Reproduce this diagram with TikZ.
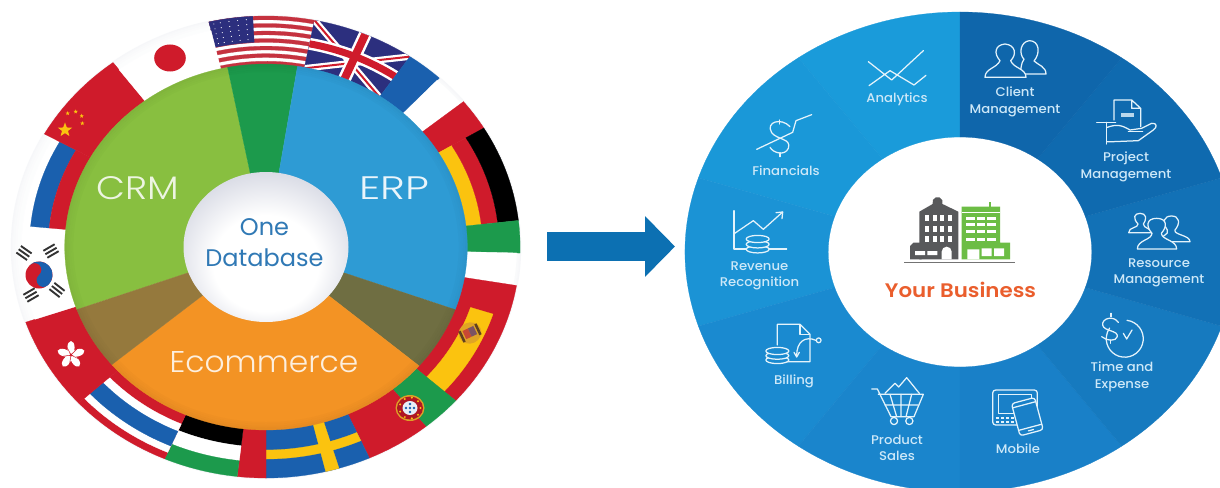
\documentclass[tikz,border=0pt]{standalone}
\usepackage{fontspec}
\usetikzlibrary{arrows.meta,shapes.geometric}
\setmainfont{Poppins}
\newfontfamily\lightf[UprightFont=* Light,FakeStretch=1.155]{Poppins}
\newfontfamily\lighte[UprightFont=* Light,FakeStretch=1.3]{Poppins}
\newfontfamily\lightc[UprightFont=* Light,FakeStretch=1.045]{Poppins}
\newfontfamily\medf[UprightFont=* Medium,FakeStretch=1.05]{Poppins}
\newfontfamily\semif[UprightFont=* SemiBold,FakeStretch=1.09]{Poppins}
\definecolor{crm}{HTML}{88BF40}
\definecolor{erp}{HTML}{2E9BD4}
\definecolor{ecom}{HTML}{F39324}
\definecolor{dkgreen}{HTML}{1C9A4C}
\definecolor{brownw}{HTML}{95793D}
\definecolor{olive}{HTML}{6F6E42}
\definecolor{fred}{HTML}{CF1B2B}
\definecolor{fblue}{HTML}{1A60AE}
\definecolor{fyellow}{HTML}{FBC30F}
\definecolor{fnavy}{HTML}{2C2F7E}
\definecolor{usred}{HTML}{C5323F}
\definecolor{hubedge}{HTML}{CDD0DD}
\definecolor{dbtext}{HTML}{3079B5}
\definecolor{arrowb}{HTML}{0C70B2}
\definecolor{seca}{HTML}{1A9BDA}
\definecolor{secb}{HTML}{1A98D8}
\definecolor{secc}{HTML}{1B93D5}
\definecolor{secd}{HTML}{1A8AD0}
\definecolor{sece}{HTML}{1A85CC}
\definecolor{secf}{HTML}{1980C8}
\definecolor{secg}{HTML}{167ABF}
\definecolor{sech}{HTML}{1271B6}
\definecolor{seci}{HTML}{0F6AAF}
\definecolor{secj}{HTML}{0F66AB}
\definecolor{lab}{HTML}{CDE8F8}
\definecolor{ico}{HTML}{E4F3FB}
\definecolor{bgray}{HTML}{58595B}
\definecolor{bgreen}{HTML}{6CBD45}
\definecolor{busy}{HTML}{EA5E2D}
\pgfdeclareradialshading{hubshade}{\pgfpoint{0bp}{-8bp}}{color(0bp)=(white);color(16bp)=(white);color(26bp)=(hubedge!60);color(33bp)=(hubedge);color(50bp)=(hubedge)}
\newcommand{\ringsec}[5]{\fill[#1,draw=#1,line width=.25pt] (#2:#4pt) arc[start angle=#2,end angle=#3,radius=#4pt] -- (#3:#5pt) arc[start angle=#3,end angle=#2,radius=#5pt] -- cycle;}
\tikzset{
 icon/.style={draw=ico,line width=1.25pt,line join=round,line cap=round},
 ilabel/.style={text=lab,font=\medf\fontsize{12.6}{16.6}\selectfont,align=center,inner sep=0pt},
 zA/.style={shift={(690,0)},x=.33333pt,y=-.33333pt},
 zB/.style={shift={(950,0)},x=.33333pt,y=-.33333pt},
 zC/.style={shift={(690,245)},x=.33333pt,y=-.33333pt},
 zD/.style={shift={(950,245)},x=.33333pt,y=-.33333pt},
 zE/.style={shift={(880,170)},x=.33333pt,y=-.33333pt},
 zF/.style={shift={(1110,200)},x=.33333pt,y=-.33333pt},
 zG/.style={shift={(720,200)},x=.33333pt,y=-.33333pt},
 zL/.style={shift={(0,0)},x=.33333pt,y=-.33333pt},
}
\begin{document}
\begin{tikzpicture}[x=1pt,y=-1pt]
\useasboundingbox (0,0) rectangle (1220,487);
\clip (0,0) rectangle (1220,487);
\fill[white] (0,0) rectangle (1220,487);
% ---------- LEFT DISC ----------
\begin{scope}[shift={(266,247)},xscale=1.1]
 \foreach \r/\c in {232/82,231/86,230/89,228/92,226/95,223/97,220/100}{\fill[white!\c!hubedge] (0,0) circle[radius=\r pt];}
 % US
 \ringsec{white}{79}{103}{182}{231}
 \foreach \i in {0,2,...,12}{\pgfmathsetmacro\ra{231-\i*3.77}\pgfmathsetmacro\rb{\ra-3.77}\ringsec{usred}{79}{103}{\rb}{\ra}}
 \ringsec{fnavy}{93}{103}{205}{231}
 \foreach \a in {94.5,96.5,98.5,100.5,102}{\foreach \r in {208,213,218,223,228}{\fill[white] (\a:\r pt) circle[radius=.55pt];}}
 % UK
 \ringsec{fnavy}{55.5}{79}{182}{231}
 \begin{scope}
  \clip (55.5:182pt) arc[start angle=55.5,end angle=79,radius=182pt] -- (79:231pt) arc[start angle=79,end angle=55.5,radius=231pt] -- cycle;
  \draw[white,line width=6.5pt] (79:231pt)--(55.5:182pt) (79:182pt)--(55.5:231pt);
  \draw[fred,line width=2pt] (79:231pt)--(55.5:182pt) (79:182pt)--(55.5:231pt);
  \draw[white,line width=13pt] (67:175pt)--(67:240pt);
  \draw[white,line width=12pt] (55.5:207pt) arc[start angle=55.5,end angle=79,radius=207pt];
  \draw[fred,line width=8pt] (67:175pt)--(67:240pt);
  \draw[fred,line width=7pt] (55.5:207pt) arc[start angle=55.5,end angle=79,radius=207pt];
 \end{scope}
 % France
 \ringsec{fblue}{47}{55.5}{182}{231}
 \ringsec{white}{39}{47}{182}{228}
 % Germany
 \ringsec{fred}{31}{39}{182}{231}
 \ringsec{fyellow}{6.6}{31}{182}{197}
 \ringsec{fred}{6.6}{31}{197}{212}
 \ringsec{black}{6.6}{31}{212}{231}
 % Italy
 \ringsec{dkgreen}{-1.5}{6.6}{182}{231}
 \ringsec{white}{-9.6}{-1.5}{182}{228}
 % Spain
 \ringsec{fred}{-41.7}{-9.6}{182}{231}
 \ringsec{fyellow}{-41.7}{-18}{195.5}{217}
 % Portugal
 \ringsec{dkgreen}{-51}{-41.7}{182}{231}
 \ringsec{fred}{-66}{-51}{182}{231}
 % Sweden
 \ringsec{fblue}{-90}{-66}{182}{231}
 \ringsec{fyellow}{-90}{-66}{203}{212}
 \ringsec{fyellow}{-76.4}{-73.3}{182}{231}
 % red band
 \ringsec{fred}{263.5}{270}{182}{231}
 % Bulgaria-like
 \ringsec{black}{246.5}{263.5}{182}{200}
 \ringsec{white}{246.5}{263.5}{200}{215}
 \ringsec{dkgreen}{246.5}{263.5}{215}{231}
 % Thailand-like
 \ringsec{fred}{222.5}{246.5}{182}{231}
 \ringsec{white}{222.5}{246.5}{193}{224}
 \ringsec{fblue}{222.5}{246.5}{201}{217}
 % Hong Kong
 \ringsec{fred}{199}{222.5}{182}{231}
 % Korea
 \ringsec{white}{174.5}{199}{182}{222}
 % Russia
 \ringsec{white}{150.7}{174.5}{182}{222}
 \ringsec{fblue}{150.7}{174.5}{198}{215}
 \ringsec{fred}{150.7}{174.5}{182}{198}
 % China
 \ringsec{fred}{127}{150.7}{182}{231}
 % Japan
 \ringsec{white}{103}{127}{182}{222}
 % inner disc
 \ringsec{crm}{101}{200}{74}{183}
 \ringsec{dkgreen}{81}{101}{74}{183}
 \ringsec{erp}{-20}{81}{74}{183}
 \ringsec{olive}{-40.5}{-20}{74}{183}
 \ringsec{ecom}{220}{319.5}{74}{183}
 \ringsec{brownw}{200}{220}{74}{183}
 \foreach \r/\o in {182/.05,180/.035,178/.025,176/.015}{\draw[black,opacity=\o,line width=2pt] (0,0) circle[radius=\r pt];}
 % hub
 \shade[shading=hubshade] (0,0) circle[radius=75pt];
\end{scope}
% flag details (left disc)
\fill[fred] (170,58) ellipse[x radius=15.8pt,y radius=13.5pt];
\begin{scope}[zL]
 \node[star,star points=5,star point ratio=2.4,minimum size=15pt,inner sep=0pt,fill=fyellow] (starbig) at (195,390) {};
 \foreach \p/\n in {{(203,340)}/sa,{(227,335)}/sb,{(245,348)}/sc,{(247,370)}/sd}{\node[star,star points=5,star point ratio=2.4,minimum size=4.5pt,inner sep=0pt,fill=fyellow] (\n) at \p {};}
\end{scope}
% Korea
\begin{scope}[shift={(39,275)}]
 \fill[fred] (0,0) circle[radius=13.5pt];
 \begin{scope}[rotate=-50]
  \fill[fblue] (-13.5pt,0pt) arc[start angle=180,end angle=0,radius=13.5pt] arc[start angle=360,end angle=180,radius=6.75pt] arc[start angle=0,end angle=180,radius=6.75pt] -- cycle;
 \end{scope}
\end{scope}
\foreach \cx/\cy/\rot in {24/253/-35,51/251/30,31/295/30,57/290/-38}{
  \begin{scope}[shift={(\cx,\cy)},rotate=\rot]
   \foreach \dy in {-4,0,4}{\draw[black!80,line width=1.9pt] (-6.5,\dy)--(6.5,\dy);}
  \end{scope}}
% Hong Kong bauhinia
\begin{scope}[shift={(71,355)}]
 \foreach \a in {18,90,162,234,306}{\fill[white,rotate=\a] (7.5pt,0pt) ellipse[x radius=6.5pt,y radius=3.6pt];}
 \foreach \a in {45,117,189,261,333}{\draw[fred,line width=.5pt,rotate=\a] (1pt,0pt)--(9pt,0pt);}
\end{scope}
% Spain arms
\begin{scope}[shift={(470,333)},rotate=25]
 \fill[fyellow!55!brown] (0,0) ellipse[x radius=11.5pt,y radius=10.5pt];
 \fill[fred!55!brown] (-6pt,-4pt) rectangle (0pt,5pt);
 \fill[black!35!blue!35!brown] (0pt,-4pt) rectangle (6pt,5pt);
 \fill[black!50!brown] (-10pt,-6pt) rectangle (-7.5pt,6pt) (7.5pt,-6pt) rectangle (10pt,6pt);
\end{scope}
% Portugal arms
\begin{scope}[shift={(410,408)}]
 \fill[fyellow!50!brown] (0,0) ellipse[x radius=14.5pt,y radius=13pt];
 \fill[fred!85!black] (0,0) ellipse[x radius=13pt,y radius=11.5pt];
 \foreach \a in {0,40,...,320}{\fill[fyellow] (\a:10.5pt) circle[radius=1.1pt];}
 \fill[white!90!fblue] (0,0) ellipse[x radius=7.5pt,y radius=7pt];
 \foreach \dx/\dy in {0/0,0/-4,0/4,-4/0,4/0}{\fill[fblue] (\dx,\dy) circle[radius=1.3pt];}
\end{scope}
% labels left
\node[text=white!85!crm,font=\lightf\fontsize{32.5}{36}\selectfont,inner sep=0pt] (crm) at (137.5,188) {CRM};
\node[text=white!90!erp,font=\lighte\fontsize{32.5}{36}\selectfont,inner sep=0pt] (erp) at (394,188) {ERP};
\node[text=white!85!ecom,font=\lightc\fontsize{30}{34}\selectfont,inner sep=0pt] (ecommerce) at (264,362) {Ecommerce};
\node[text=dbtext,font=\fontsize{24}{31}\selectfont,align=center,inner sep=0pt] (one) at (264.5,243) {One\\Database};
% ---------- ARROW ----------
\coordinate (arrowfrom) at (547,246.5);
\coordinate (arrowto) at (675,246.5);
\draw[arrowb,line width=29pt,-{Triangle[length=30pt,width=59pt]}] (arrowfrom) -- (arrowto);
% ---------- RIGHT DISC ----------
\begin{scope}[shift={(960,252)},xscale=1.146]
 \foreach \i/\c in {0/seca,1/secb,2/secc,3/secd,4/sece,5/secf,6/secg,7/sech,8/seci,9/secj}{
  \pgfmathsetmacro\aa{90+\i*36}\pgfmathsetmacro\ab{90+(\i+1)*36}
  \ringsec{\c}{\aa}{\ab}{115}{240}}
\end{scope}
% building
\begin{scope}[zE]
 \fill[bgray] (118,268)--(118,125)--(158,102) arc[start angle=200,end angle=-20,radius=5.2pt]--(235,125)--(235,268)--cycle;
 \fill[bgray] (90,268)--(90,228)--(100,218)--(125,218)--(125,268)--cycle;
 \foreach \x in {135,158,181,204}{\foreach \y in {135,167,197}{\fill[white] (\x,\y) rectangle +(12,19);}}
 \fill[white] (105,243) rectangle (135,255) (142,243) rectangle (172,255);
 \fill[white] (185,268)--(185,245) arc[start angle=180,end angle=0,radius=5pt]--(215,268)--cycle;
 \fill[bgreen] (245,268)--(245,110)--(360,110)--(360,218)--(390,218)--(390,268)--cycle;
 \fill[bgreen] (327,95) rectangle (333,110);
 \fill[white] (245,125) rectangle (360,130);
 \foreach \x in {258,290,322}{\foreach \y in {140,160,180,203}{\fill[white] (\x,\y) rectangle +(26,9);}}
 \fill[white] (262,268) rectangle (298,238) (305,235) rectangle (335,258) (342,235) rectangle (372,258);
 \draw[black!55,line width=1.6pt] (72,278)--(405,278);
\end{scope}
\node[text=busy,font=\semif\fontsize{19.6}{22}\selectfont,inner sep=0pt] (yourbiz) at (960.5,290) {Your Business};
% labels right
\node[ilabel] (l1) at (897,99) {Analytics};
\node[ilabel] (l2) at (786,171) {Financials};
\node[ilabel] (l3) at (759.5,276) {Revenue\\Recognition};
\node[ilabel] (l4) at (794,381) {Billing};
\node[ilabel] (l5) at (897,448) {Product\\Sales};
\node[ilabel] (l6) at (1018,449) {Mobile};
\node[ilabel] (l7) at (1122,377) {Time and\\Expense};
\node[ilabel] (l8) at (1159,273) {Resource\\Management};
\node[ilabel] (l9) at (1126,167) {Project\\Management};
\node[ilabel] (l10) at (1015,102) {Client\\Management};
% icons
\begin{scope}[zA]
 \draw[icon] (535,185)--(605,240)--(700,152) (537,257)--(600,212)--(672,255)--(708,226);
 \draw[icon] (200,448)--(308,397)--(318,362)--(365,344);
 \draw[icon] (300,380) .. controls (275,352) and (225,365) .. (245,398) .. controls (262,420) and (305,415) .. (295,445) .. controls (285,468) and (250,460) .. (240,442);
 \draw[icon] (268,360)--(268,372) (270,458)--(270,470);
\end{scope}
\begin{scope}[zG]
 \draw[icon] (42,32)--(42,147)--(200,147);
 \draw[icon] (44,100)--(100,62)--(130,88)--(188,36);
 \draw[icon] (168,38)--(188,36)--(186,56);
 \foreach \y in {148,133,117}{\filldraw[icon,fill=secc] (113,\y) ellipse[x radius=11.5pt,y radius=3.6pt];}
\end{scope}
\begin{scope}[zB]
 \filldraw[icon,fill=secj] (210,215) .. controls (215,205) and (212,190) .. (222,178) .. controls (205,160) and (212,125) .. (238,122) .. controls (268,122) and (272,160) .. (252,183) .. controls (265,195) and (288,200) .. (288,222) -- (212,222) -- cycle;
 \filldraw[icon,fill=secj] (105,232) .. controls (105,205) and (140,205) .. (150,182) .. controls (130,160) and (135,135) .. (165,132) .. controls (198,135) and (200,165) .. (182,182) .. controls (190,205) and (228,205) .. (228,232) -- cycle;
 % project
 \draw[icon] (492,360)--(492,300)--(545,300)--(572,325)--(572,380) (545,300)--(545,325)--(572,325);
 \fill[ico!80!seci] (512,340) rectangle (552,352);
 \draw[icon] (440,367)--(497,367) (470,367)--(470,432);
 \draw[icon] (472,382) .. controls (500,372) and (515,375) .. (540,390) -- (575,385) -- (605,370) .. controls (622,368) and (622,382) .. (610,390) -- (565,422) -- (490,425) -- (472,425);
 \draw[icon] (535,394)--(578,394);
\end{scope}
\begin{scope}[zF]
 \filldraw[icon,fill=sech] (56,98) .. controls (56,80) and (85,85) .. (84,72) .. controls (68,55) and (72,40) .. (90,40) .. controls (108,40) and (112,55) .. (100,72) .. controls (100,85) and (125,85) .. (125,98) -- cycle;
 \filldraw[icon,fill=sech] (150,125) .. controls (150,105) and (180,105) .. (172,90) .. controls (155,65) and (162,48) .. (185,48) .. controls (208,48) and (212,70) .. (195,90) .. controls (190,105) and (240,105) .. (240,125) -- cycle;
 \filldraw[icon,fill=sech] (82,147) .. controls (82,120) and (125,120) .. (126,100) .. controls (108,80) and (108,55) .. (140,55) .. controls (172,55) and (172,80) .. (154,100) .. controls (155,120) and (200,120) .. (200,147) -- cycle;
\end{scope}
\begin{scope}[zD]
 % time
 \draw[icon] (531,226) arc[start angle=83,end angle=-215,radius=18.5pt];
 \draw[icon] (520,265)--(530,282)--(546,255);
 \draw[icon] (505,232) .. controls (490,210) and (455,220) .. (458,240) .. controls (462,260) and (505,255) .. (502,275) .. controls (498,290) and (470,288) .. (455,275);
 \draw[icon] (483,205)--(483,215) (482,285)--(482,295);
 % mobile
 \draw[icon,rounded corners=3pt] (128,435) rectangle (262,540);
 \draw[icon] (145,448) rectangle (245,505);
 \foreach \x in {137,152,167,182}{\foreach \y in {515,528}{\fill[ico] (\x,\y) rectangle +(9,7);}}
 \begin{scope}[shift={(232,515)},rotate=15]
  \filldraw[icon,fill=secf,rounded corners=3pt] (-36,-50) rectangle (36,50);
  \draw[icon] (-36,-37)--(36,-37) (-36,33)--(36,33);
  \draw[icon] (-8,42)--(8,42);
 \end{scope}
\end{scope}
\begin{scope}[zC]
 % billing
 \draw[icon] (262,300)--(262,238)--(330,238)--(360,268)--(360,350)--(290,350);
 \draw[icon] (330,240)--(330,268)--(358,268);
 \foreach \y in {345,332,318}{\filldraw[icon,fill=secd] (262,\y) ellipse[x radius=11.5pt,y radius=3.6pt];}
 \draw[icon] (378,286) .. controls (345,272) and (320,290) .. (320,332);
 \draw[icon] (312,322)--(320,336)--(328,322);
 \draw[icon] (386,286) circle[radius=2.4pt];
 % cart
 \draw[icon] (545,432)--(562,432)--(603,515)--(672,515)--(700,448)--(565,448);
 \draw[icon] (585,480)--(684,480) (600,448)--(620,515) (665,448)--(648,515) (633,448)--(633,515);
 \draw[icon] (585,445)--(615,415)--(626,426)--(650,398)--(688,445);
 \draw[icon] (612,528) circle[radius=3.6pt] (658,528) circle[radius=3.6pt];
\end{scope}
\end{tikzpicture}
\end{document}
